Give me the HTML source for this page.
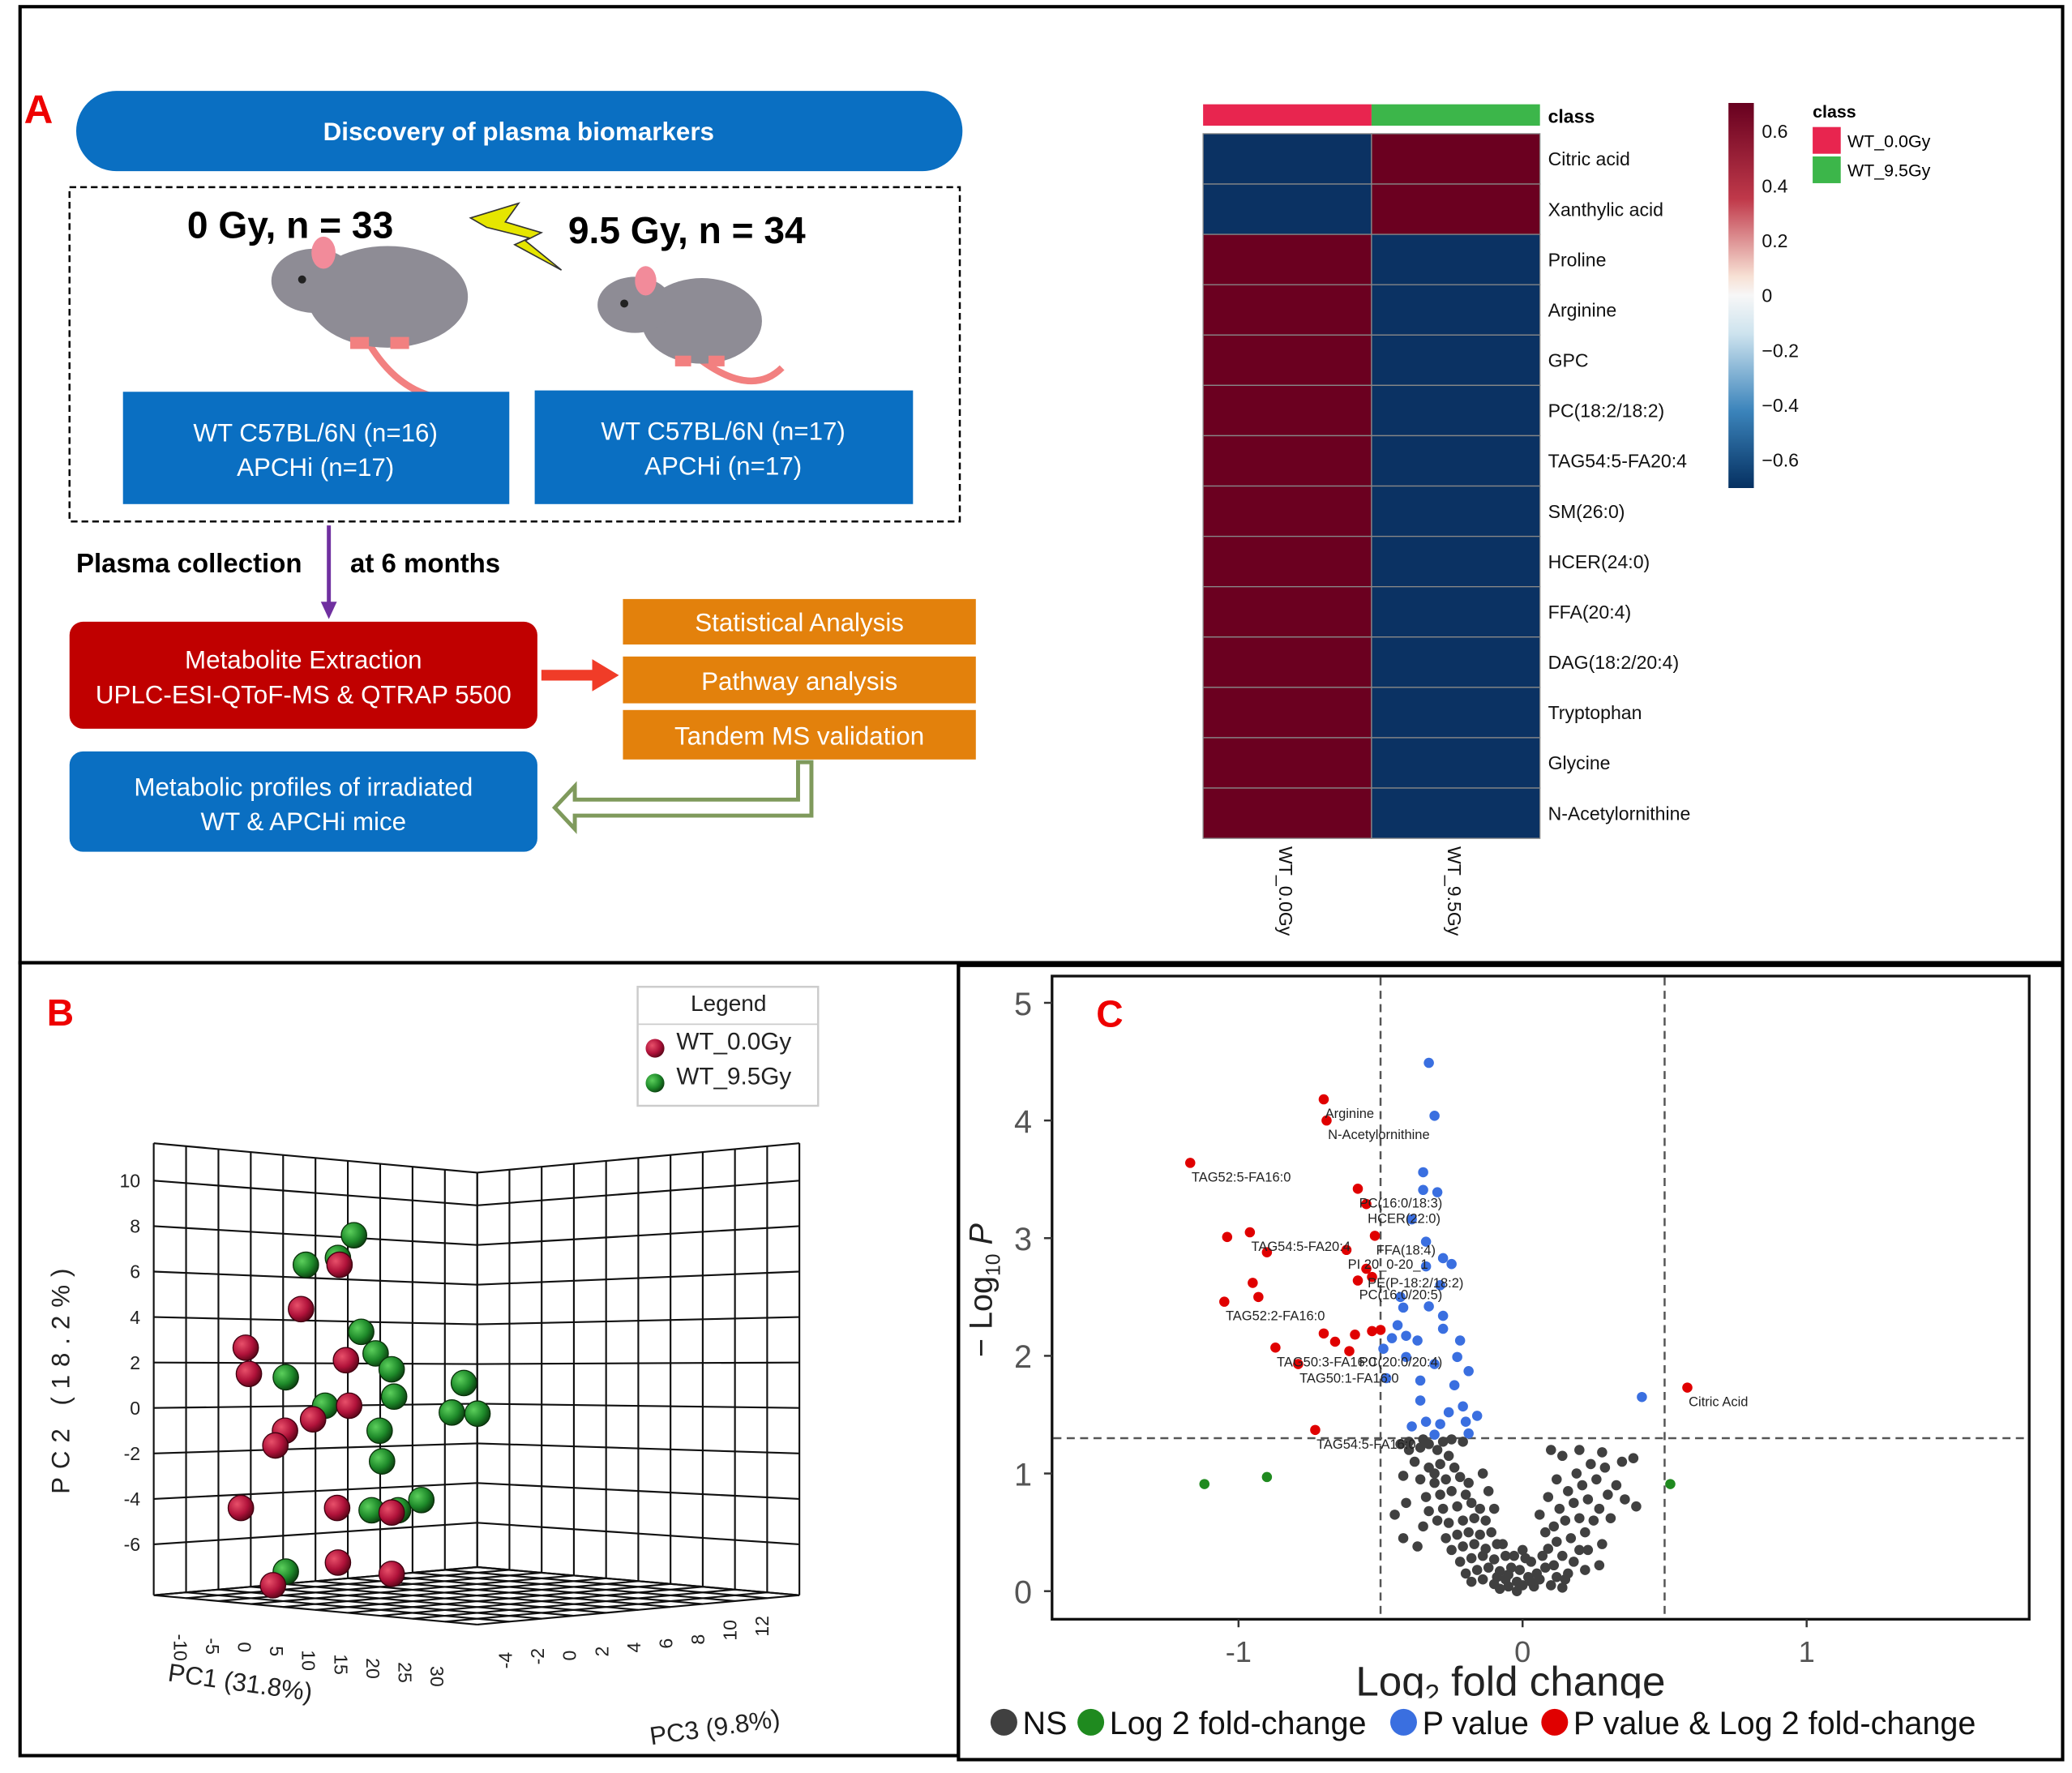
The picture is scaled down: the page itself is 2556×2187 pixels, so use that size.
<!DOCTYPE html>
<html><head><meta charset="utf-8">
<style>
html,body{margin:0;padding:0;background:#fff;}
svg{display:block;font-family:"Liberation Sans",sans-serif;}
</style></head>
<body>
<svg id="root" width="2556" height="2187" viewBox="0 0 1550 1326" preserveAspectRatio="none" xmlns="http://www.w3.org/2000/svg">
<defs>
<radialGradient id="gRed" cx="0.35" cy="0.35" r="0.7"><stop offset="0" stop-color="#e8506a"/><stop offset="0.6" stop-color="#b0123a"/><stop offset="1" stop-color="#5a0518"/></radialGradient>
<radialGradient id="gGreen" cx="0.35" cy="0.35" r="0.7"><stop offset="0" stop-color="#5ccf5c"/><stop offset="0.6" stop-color="#1e8a2a"/><stop offset="1" stop-color="#0b4010"/></radialGradient>
<linearGradient id="cbar" x1="0" y1="0" x2="0" y2="1"><stop offset="0" stop-color="#67001f"/><stop offset="0.25" stop-color="#c0394a"/><stop offset="0.45" stop-color="#f7e0d4"/><stop offset="0.5" stop-color="#f7f7f7"/><stop offset="0.6" stop-color="#cde3ee"/><stop offset="0.8" stop-color="#3b84bb"/><stop offset="1" stop-color="#053061"/></linearGradient>
</defs>

<!-- panel borders -->
<rect x="15" y="5" width="1528" height="715" fill="none" stroke="#000" stroke-width="2.5"/>
<rect x="15" y="720" width="702" height="593" fill="none" stroke="#000" stroke-width="2.5"/>
<rect x="717" y="722" width="826" height="594" fill="none" stroke="#000" stroke-width="2.5"/>

<!-- PANEL A flowchart -->
<text x="18" y="92" font-size="30" font-weight="bold" fill="#e00">A</text>
<rect x="57" y="68" width="663" height="60" rx="30" fill="#0a6fc2"/>
<text x="388" y="105" font-size="19" font-weight="bold" fill="#fff" text-anchor="middle">Discovery of plasma biomarkers</text>
<rect x="52" y="140" width="666" height="250" fill="none" stroke="#000" stroke-width="1.5" stroke-dasharray="5,3"/>
<text x="140" y="178" font-size="28" font-weight="bold" fill="#000">0 Gy, n = 33</text>
<text x="425" y="182" font-size="28" font-weight="bold" fill="#000">9.5 Gy, n = 34</text>
<polygon points="352,163 388,152 378,166 405,174 393,180 420,202 385,183 396,178 364,170" fill="#e6e600" stroke="#333" stroke-width="1"/>
<g>
<path d="M268,242 Q300,310 360,296" fill="none" stroke="#f28080" stroke-width="5"/>
<ellipse cx="290" cy="222" rx="60" ry="38" fill="#8e8c95"/>
<ellipse cx="235" cy="210" rx="32" ry="24" fill="#8e8c95"/>
<ellipse cx="242" cy="189" rx="9" ry="12" fill="#f28b9a"/>
<circle cx="226" cy="209" r="3" fill="#222"/>
<rect x="262" y="252" width="14" height="9" fill="#f28080"/><rect x="292" y="252" width="14" height="9" fill="#f28080"/>
</g>
<g>
<path d="M515,262 Q560,300 585,275" fill="none" stroke="#f28080" stroke-width="5"/>
<ellipse cx="525" cy="240" rx="45" ry="32" fill="#8e8c95"/>
<ellipse cx="475" cy="228" rx="28" ry="21" fill="#8e8c95"/>
<ellipse cx="483" cy="210" rx="8" ry="11" fill="#f28b9a"/>
<circle cx="467" cy="227" r="3" fill="#222"/>
<rect x="505" y="266" width="12" height="8" fill="#f28080"/><rect x="530" y="266" width="12" height="8" fill="#f28080"/>
</g>
<rect x="92" y="293" width="289" height="84" fill="#0a6fc2"/>
<text x="236" y="330" font-size="19" fill="#fff" text-anchor="middle">WT C57BL/6N (n=16)</text>
<text x="236" y="356" font-size="19" fill="#fff" text-anchor="middle">APCHi (n=17)</text>
<rect x="400" y="292" width="283" height="85" fill="#0a6fc2"/>
<text x="541" y="329" font-size="19" fill="#fff" text-anchor="middle">WT C57BL/6N (n=17)</text>
<text x="541" y="355" font-size="19" fill="#fff" text-anchor="middle">APCHi (n=17)</text>
<text x="57" y="428" font-size="20" font-weight="bold" fill="#000">Plasma collection</text>
<text x="262" y="428" font-size="20" font-weight="bold" fill="#000">at 6 months</text>
<line x1="246" y1="393" x2="246" y2="452" stroke="#7030a0" stroke-width="3"/>
<polygon points="240,450 252,450 246,463" fill="#7030a0"/>
<rect x="52" y="465" width="350" height="80" rx="10" fill="#c00000"/>
<text x="227" y="500" font-size="19" fill="#fff" text-anchor="middle">Metabolite Extraction</text>
<text x="227" y="526" font-size="19" fill="#fff" text-anchor="middle">UPLC-ESI-QToF-MS &amp; QTRAP 5500</text>
<line x1="405" y1="505" x2="445" y2="505" stroke="#f03c28" stroke-width="8"/>
<polygon points="443,493 463,505 443,517" fill="#f03c28"/>
<rect x="466" y="448" width="264" height="34" fill="#e3810c"/>
<text x="598" y="472" font-size="19" fill="#fff" text-anchor="middle">Statistical Analysis</text>
<rect x="466" y="491" width="264" height="35" fill="#e3810c"/>
<text x="598" y="516" font-size="19" fill="#fff" text-anchor="middle">Pathway analysis</text>
<rect x="466" y="531" width="264" height="37" fill="#e3810c"/>
<text x="598" y="557" font-size="19" fill="#fff" text-anchor="middle">Tandem MS validation</text>
<path d="M597,570 L607,570 L607,610 L430,610 L430,620 L415,604 L430,588 L430,598 L597,598 Z" fill="#fff" stroke="#7f9a5c" stroke-width="3"/>
<rect x="52" y="562" width="350" height="75" rx="10" fill="#0a6fc2"/>
<text x="227" y="595" font-size="19" fill="#fff" text-anchor="middle">Metabolic profiles of irradiated</text>
<text x="227" y="621" font-size="19" fill="#fff" text-anchor="middle">WT &amp; APCHi mice</text>

<!-- HEATMAP -->
<g id="heatmap"></g>
<rect x="1293" y="77" width="19" height="288" fill="url(#cbar)"/>
<g id="cbarTicks"></g>
<text x="1356" y="88" font-size="13" font-weight="bold" fill="#000">class</text>
<rect x="1356" y="95" width="21" height="20" fill="#e8254f"/>
<text x="1382" y="110" font-size="13" fill="#000">WT_0.0Gy</text>
<rect x="1356" y="117" width="21" height="20" fill="#3cb64a"/>
<text x="1382" y="132" font-size="13" fill="#000">WT_9.5Gy</text>

<!-- PANEL B PCA -->
<text x="35" y="767" font-size="28" font-weight="bold" fill="#e00">B</text>
<g>
<rect x="477" y="738" width="135" height="89" fill="#fff" stroke="#ccc" stroke-width="1.5"/>
<line x1="477" y1="766" x2="612" y2="766" stroke="#ccc"/>
<text x="545" y="756" font-size="17" text-anchor="middle" fill="#222">Legend</text>
<circle cx="490" cy="784" r="7" fill="url(#gRed)"/><text x="506" y="785" font-size="18" fill="#222">WT_0.0Gy</text>
<circle cx="490" cy="810" r="7" fill="url(#gGreen)"/><text x="506" y="811" font-size="18" fill="#222">WT_9.5Gy</text>
</g>
<g id="pcaGrid"></g>
<g id="pcaTicks"></g>
<g id="pcaPoints"></g>
<text transform="translate(52,1030) rotate(-90)" font-size="19" letter-spacing="6" text-anchor="middle" fill="#222">PC2 (18.2%)</text>
<text transform="translate(125,1257) rotate(8)" font-size="19" fill="#222">PC1 (31.8%)</text>
<text transform="translate(487,1305) rotate(-8)" font-size="19" fill="#222">PC3 (9.8%)</text>

<!-- PANEL C VOLCANO -->
<g id="volcano"></g>
<text x="820" y="768" font-size="28" font-weight="bold" fill="#e00">C</text>
<text transform="translate(742,965) rotate(-90)" font-size="24" text-anchor="middle" fill="#222">− Log<tspan font-size="15" dy="6">10</tspan><tspan dy="-6" font-style="italic"> P</tspan></text>
<text x="1130" y="1268" font-size="31" text-anchor="middle" fill="#222">Log<tspan font-size="20" dy="6">2</tspan><tspan dy="-6"> fold change</tspan></text>
<rect x="720" y="1270" width="820" height="40" fill="#fff"/>
<g>
<circle cx="751" cy="1288" r="10" fill="#404040"/><text x="765" y="1297" font-size="24" fill="#111">NS</text>
<circle cx="816" cy="1288" r="10" fill="#1f8a1f"/><text x="830" y="1297" font-size="24" fill="#111">Log 2 fold-change</text>
<circle cx="1050" cy="1288" r="10" fill="#3a6fe0"/><text x="1064" y="1297" font-size="24" fill="#111">P value</text>
<circle cx="1163" cy="1288" r="10" fill="#e00000"/><text x="1177" y="1297" font-size="24" fill="#111">P value &amp; Log 2 fold-change</text>
</g>
</svg>

<script>
const NS="http://www.w3.org/2000/svg";
function mk(parent,tag,attrs,txt){const e=document.createElementNS(NS,tag);for(const k in attrs)e.setAttribute(k,attrs[k]);if(txt!==undefined)e.textContent=txt;parent.appendChild(e);return e;}

/* ===== Heatmap data ===== */
const hmRows=["Citric acid","Xanthylic acid","Proline","Arginine","GPC","PC(18:2/18:2)","TAG54:5-FA20:4","SM(26:0)","HCER(24:0)","FFA(20:4)","DAG(18:2/20:4)","Tryptophan","Glycine","N-Acetylornithine"];
const hmCols=["WT_0.0Gy","WT_9.5Gy"];
const hmCol0=[-0.6,-0.6,0.6,0.6,0.6,0.6,0.6,0.6,0.6,0.6,0.6,0.6,0.6,0.6];
const hmCol1=[0.6,0.6,-0.6,-0.6,-0.6,-0.6,-0.6,-0.6,-0.6,-0.6,-0.6,-0.6,-0.6,-0.6];
const cbarTicks=[0.6,0.4,0.2,0,-0.2,-0.4,-0.6];
function hmColor(v){return v>0?"#6b0020":"#0b3263";}
(function(){
 const g=document.getElementById('heatmap');
 const x0=900,cw=126,y0=100,rh=(627-100)/hmRows.length;
 const c1=mk(g,'rect',{x:x0,y:78,width:cw,height:16,fill:'#e8254f'});
 
 
 const c2=mk(g,'rect',{x:x0+cw,y:78,width:cw,height:16,fill:'#3cb64a'});
 
 
 const ct=mk(g,'text',{x:1158,y:92,'font-size':14,'font-weight':'bold'},'class');
 
 
 const cols=[hmCol0,hmCol1];
 hmRows.forEach((r,i)=>{
  cols.forEach((col,j)=>{
   const c=mk(g,'rect',{x:x0+j*cw,y:y0+i*rh,width:cw,height:rh,fill:hmColor(col[i]),stroke:'#888','stroke-width':0.8});
   
   
  });
  const t=mk(g,'text',{x:1158,y:y0+i*rh+rh/2+5,'font-size':14,fill:'#111'},r);
  
  
 });
 hmCols.forEach((c,j)=>{
  const t=mk(g,'text',{transform:`translate(${x0+j*cw+cw/2-6},633) rotate(90)`,'font-size':14,fill:'#111'},c);
  
  
 });
 const tg=document.getElementById('cbarTicks');
 cbarTicks.forEach(v=>{
  const y=221-v*205;
  const t=mk(tg,'text',{x:1318,y:y+5,'font-size':14,fill:'#111'},(v<0?'−':'')+Math.abs(v));
  
  
 });
})();

/* ===== PCA data ===== */
const pcaRedPC1=[14,9.2,2.3,2.7,14.8,15.2,10.7,7.2,6,1.7,13.7,20.5,13.8,20.5,5.7];
const pcaRedPC2=[6.3,4.35,2.65,1.5,2.1,0.1,-0.5,-1.0,-1.65,-4.4,-4.4,-4.6,-6.8,-7.3,-7.8];
const pcaGreenPC1=[15.8,13.8,9.8,16.7,18.5,20.5,7.3,12.2,20.8,29.5,28,31.2,19,19.3,24.2,18,21.3,7.3];
const pcaGreenPC2=[7.6,6.6,6.3,3.35,2.4,1.7,1.35,0.1,0.5,1.1,-0.2,-0.25,-1.0,-2.35,-4.05,-4.5,-4.5,-7.2];
const pc2Ticks=[10,8,6,4,2,0,-2,-4,-6];
const pc1Ticks=[-10,-5,0,5,10,15,20,25,30];
const pc3Ticks=[-4,-2,0,2,4,6,8,10,12];
function pcX(u){return 170+u*6;}
function pcY(v){return 1053-v*17;}
(function(){
 const g=document.getElementById('pcaGrid');
 const L=115,C=357,R=598;
 const topOut=855,topC=877,botOut=1193,botC=1172,front=1215;
 const vTop=(1053-topOut)/17, vBot=(1053-botOut)/17;
 function edgeY(v,outer){const t=(vTop-v)/(vTop-vBot);return outer?topOut+t*(botOut-topOut):topC+t*(botC-topC);}
 const st={stroke:'#111','stroke-width':1.3,fill:'none'};
 // vertical lines
 for(let i=0;i<=10;i++){
  const x=L+(C-L)*i/10, f=i/10;
  mk(g,'line',Object.assign({x1:x,y1:topOut+(topC-topOut)*f,x2:x,y2:botOut+(botC-botOut)*f},st));
  const x2=C+(R-C)*i/10;
  mk(g,'line',Object.assign({x1:x2,y1:topC+(topOut-topC)*f,x2:x2,y2:botC+(botOut-botC)*f},st));
 }
 // horizontal lines at tick levels + edges
 const levels=[vTop].concat(pc2Ticks).concat([vBot]);
 levels.forEach(v=>{
  mk(g,'line',Object.assign({x1:L,y1:edgeY(v,true),x2:C,y2:edgeY(v,false)},st));
  mk(g,'line',Object.assign({x1:C,y1:edgeY(v,false),x2:R,y2:edgeY(v,true)},st));
 });
 // floor grid
 for(let i=0;i<=10;i++){
  const f=i/10;
  mk(g,'line',Object.assign({x1:L+(C-L)*f,y1:botOut+(botC-botOut)*f,x2:C+(R-C)*f,y2:front+(botOut-front)*f},st));
  mk(g,'line',Object.assign({x1:C+(R-C)*f,y1:botC+(botOut-botC)*f,x2:L+(C-L)*f,y2:botOut+(front-botOut)*f},st));
 }
 const tg=document.getElementById('pcaTicks');
 pc2Ticks.forEach(v=>{
  const t=mk(tg,'text',{x:105,y:pcY(v)+5,'font-size':14,'text-anchor':'end',fill:'#222'},v);
  
  
 });
 pc1Ticks.forEach((v,i)=>{
  const x=130+i*24, y=1222+i*3;
  const t=mk(tg,'text',{transform:`translate(${x},${y}) rotate(90)`,'font-size':14,fill:'#222'},v);
  
  
 });
 pc3Ticks.forEach((v,i)=>{
  const x=383+i*24, y=1248-i*3;
  const t=mk(tg,'text',{transform:`translate(${x},${y}) rotate(-90)`,'font-size':14,fill:'#222'},v);
  
  
 });
 const pg=document.getElementById('pcaPoints');
 pcaGreenPC1.forEach((u,i)=>{
  const c=mk(pg,'circle',{cx:pcX(u),cy:pcY(pcaGreenPC2[i]),r:9.5,fill:'url(#gGreen)',stroke:'#0a300a','stroke-width':0.8});
  
  
 });
 pcaRedPC1.forEach((u,i)=>{
  const c=mk(pg,'circle',{cx:pcX(u),cy:pcY(pcaRedPC2[i]),r:9.5,fill:'url(#gRed)',stroke:'#400010','stroke-width':0.8});
  
  
 });
})();

/* ===== Volcano data ===== */
const redFC=[-0.70,-0.69,-1.17,-0.58,-0.55,-1.04,-0.96,-0.90,-0.62,-0.52,-0.55,-0.53,-0.58,-0.95,-0.93,-1.05,-0.70,-0.66,-0.59,-0.53,-0.50,-0.87,-0.61,-0.79,-0.73,0.58];
const redP=[4.18,4.0,3.64,3.42,3.29,3.01,3.05,2.88,2.9,3.02,2.74,2.67,2.64,2.62,2.5,2.46,2.19,2.12,2.18,2.21,2.22,2.07,2.04,1.93,1.37,1.73];
const blueFC=[-0.33,-0.31,-0.35,-0.35,-0.30,-0.39,-0.34,-0.28,-0.25,-0.34,-0.29,-0.43,-0.42,-0.33,-0.28,-0.44,-0.46,-0.41,-0.37,-0.28,-0.22,-0.49,-0.41,-0.31,-0.23,-0.19,-0.48,-0.36,-0.24,-0.36,-0.21,-0.16,-0.26,-0.39,-0.34,-0.29,-0.20,-0.31,-0.19,0.42];
const blueP=[4.49,4.04,3.56,3.41,3.39,3.16,2.97,2.83,2.78,2.76,2.6,2.5,2.41,2.42,2.34,2.26,2.15,2.17,2.13,2.23,2.13,2.06,1.99,1.93,1.99,1.87,1.81,1.79,1.75,1.62,1.57,1.49,1.52,1.40,1.44,1.42,1.44,1.33,1.34,1.65];
const greenFC=[-1.12,-0.90,0.52];
const greenP=[0.91,0.97,0.91];
const nsFC=[-0.43,-0.40,-0.36,-0.33,-0.30,-0.28,-0.26,-0.38,-0.33,-0.29,-0.24,-0.42,-0.36,-0.31,-0.27,-0.22,-0.19,-0.41,-0.34,-0.29,-0.25,-0.20,-0.45,-0.33,-0.28,-0.23,-0.18,-0.15,-0.35,-0.30,-0.26,-0.21,-0.17,-0.13,-0.27,-0.23,-0.19,-0.15,-0.11,-0.25,-0.21,-0.17,-0.13,-0.09,-0.22,-0.18,-0.14,-0.10,-0.06,-0.20,-0.16,-0.12,-0.08,-0.04,-0.18,-0.14,-0.10,-0.06,-0.02,0,0.02,-0.01,0.04,0.06,0.08,0.03,-0.03,0.10,0.12,0.07,0.0,-0.05,-0.08,0.14,0.05,-0.02,0.01,0.09,-0.07,0.16,0.18,0.14,0.20,0.12,0.17,0.22,0.11,0.15,0.20,0.25,0.13,0.18,0.23,0.27,0.30,0.16,0.21,0.26,0.33,0.36,0.40,0.19,0.24,0.29,0.35,0.14,0.20,0.28,0.39,0.31,0.23,0.27,0.08,0.06,0.09,0.12,0.10,0.22,0.28,-0.42,-0.31,-0.37,-0.14,-0.12,-0.10,-0.40,-0.35,-0.25,-0.21,-0.05,0.03,-0.09,0.11,0.15];
const nsP=[1.25,1.27,1.22,1.25,1.2,1.27,1.15,1.1,1.05,1.08,1.05,0.98,0.95,0.92,0.95,0.97,0.92,0.75,0.8,0.82,0.85,0.82,0.65,0.68,0.7,0.72,0.75,0.7,0.55,0.6,0.58,0.6,0.62,0.6,0.45,0.48,0.5,0.48,0.5,0.35,0.38,0.4,0.36,0.4,0.25,0.28,0.3,0.27,0.3,0.15,0.18,0.2,0.17,0.2,0.08,0.1,0.06,0.1,0.08,0.05,0.12,0.18,0.04,0.1,0.2,0.25,0.3,0.05,0.12,0.3,0.35,0.04,0.02,0.03,0.15,0.0,0.28,0.36,0.4,0.15,0.25,0.3,0.35,0.42,0.45,0.5,0.55,0.6,0.62,0.6,0.7,0.75,0.78,0.7,0.82,0.85,0.9,0.95,0.9,0.78,0.72,1.0,1.08,1.05,1.1,1.15,1.2,1.18,1.13,0.62,0.35,0.22,0.5,0.65,0.8,0.95,1.2,0.18,0.4,0.45,1.0,0.38,1.0,0.85,0.7,1.2,1.29,1.29,1.27,0.14,0.08,0.12,0.22,0.1];
const xTicks=[-1,0,1];
const yTicks=[0,1,2,3,4,5];
const volcLabels=["Arginine","N-Acetylornithine","TAG52:5-FA16:0","PC(16:0/18:3)","HCER(22:0)","TAG54:5-FA20:4","FFA(18:4)","PI 20_0-20_1","PE(P-18:2/18:2)","PC(16:0/20:5)","TAG52:2-FA16:0","PC(20:0/20:4)","TAG50:3-FA16:0","TAG50:1-FA16:0","TAG54:5-FA16:0","Citric Acid"];
const volcLabelFC=[-0.7,-0.69,-1.17,-0.58,-0.55,-0.96,-0.52,-0.62,-0.55,-0.58,-1.05,-0.58,-0.87,-0.79,-0.73,0.58];
const volcLabelP=[4.18,4.0,3.64,3.42,3.29,3.05,3.02,2.9,2.74,2.64,2.46,2.07,2.07,1.93,1.37,1.73];
function vx(fc){return 1139+fc*212.5;}
function vy(p){return 1190-p*88;}
(function(){
 const g=document.getElementById('volcano');
 const fr=mk(g,'rect',{x:787,y:730,width:731,height:481,fill:'none',stroke:'#111','stroke-width':2});
 
 
 xTicks.forEach(v=>{
  mk(g,'line',{x1:vx(v),y1:1211,x2:vx(v),y2:1217,stroke:'#333','stroke-width':1.5});
  const t=mk(g,'text',{x:vx(v),y:1243,'font-size':22,'text-anchor':'middle',fill:'#555'},v<0?'-'+Math.abs(v):v);
  
  
 });
 yTicks.forEach(v=>{
  mk(g,'line',{x1:781,y1:vy(v),x2:787,y2:vy(v),stroke:'#333','stroke-width':1.5});
  const t=mk(g,'text',{x:772,y:vy(v)+9,'font-size':24,'text-anchor':'end',fill:'#555'},v);
  
  
 });
 [-0.5,0.5].forEach(v=>{
  const l=mk(g,'line',{x1:vx(v),y1:731,x2:vx(v),y2:1210,stroke:'#555','stroke-width':1.5,'stroke-dasharray':'6,4'});
  
  
 });
 const hl=mk(g,'line',{x1:788,y1:vy(1.3),x2:1517,y2:vy(1.3),stroke:'#555','stroke-width':1.5,'stroke-dasharray':'6,4'});
 
 
 function pts(fcs,ps,col,name){
  fcs.forEach((f,i)=>{
   const c=mk(g,'circle',{cx:vx(f),cy:vy(ps[i]),r:3.8,fill:col});
   
   
  });
 }
 pts(nsFC,nsP,'#404040','ns-point');
 pts(greenFC,greenP,'#1f8a1f','fc-point');
 pts(blueFC,blueP,'#3a6fe0','pvalue-point');
 pts(redFC,redP,'#e00000','sig-point');
 volcLabels.forEach((s,i)=>{
  const t=mk(g,'text',{x:vx(volcLabelFC[i])+1,y:vy(volcLabelP[i])+14,'font-size':10,fill:'#222'},s);
  
  
 });
})();
</script>
</body></html>
